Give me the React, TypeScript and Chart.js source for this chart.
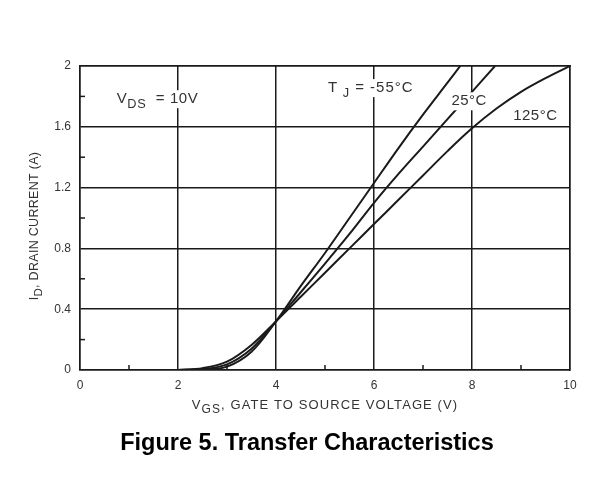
import React, { useEffect, useRef } from "react";
import { Chart, registerables } from "chart.js";

Chart.register(...registerables);

// V_GS (V) sample points and I_D (A), per junction temperature
const vgsMinus55 = [2.0, 2.5, 3.0, 3.5, 4.0, 4.5, 5.0, 5.5, 6.0, 6.5, 7.0, 7.5, 7.76];
const idMinus55 = [0, 0.002, 0.022, 0.12, 0.32, 0.55, 0.77, 1.0, 1.23, 1.46, 1.68, 1.89, 2.0];

const vgs25 = [2.0, 2.5, 3.0, 3.5, 4.0, 4.5, 5.0, 5.5, 6.0, 6.5, 7.0, 7.5, 8.0, 8.47];
const id25 = [0, 0.006, 0.037, 0.14, 0.32, 0.51, 0.7, 0.895, 1.1, 1.29, 1.47, 1.65, 1.83, 2.0];

const vgs125 = [2.0, 2.5, 3.0, 3.5, 4.0, 4.5, 5.0, 5.5, 6.0, 6.5, 7.0, 7.5, 8.0, 8.5, 9.0, 9.5, 10.0];
const id125 = [0, 0.012, 0.055, 0.165, 0.32, 0.48, 0.64, 0.8, 0.96, 1.12, 1.28, 1.44, 1.59, 1.72, 1.83, 1.92, 2.0];

const xTicks = [0, 2, 4, 6, 8, 10];
const yTicks = [0, 0.4, 0.8, 1.2, 1.6, 2];
const xMinorTicks = [1, 3, 5, 7, 9];
const yMinorTicks = [0.2, 0.6, 1.0, 1.4, 1.8];

const seriesLabels = ["-55°C", "25°C", "125°C"];

const FONT = "'Liberation Sans', Arial, Helvetica, sans-serif";
const INK = "#1a1a1a";
const TEXT = "#333";

function toPoints(xs: number[], ys: number[]) {
  return xs.map((x, i) => ({ x, y: ys[i] }));
}

function drawSubText(
  ctx: CanvasRenderingContext2D,
  parts: { t: string; sub?: boolean }[],
  x: number,
  y: number,
  size: number,
  subSize: number,
  subDrop: number,
  spacing = "0px"
) {
  let cx = x;
  for (const p of parts) {
    ctx.font = `${p.sub ? subSize : size}px ${FONT}`;
    (ctx as any).letterSpacing = spacing;
    ctx.fillText(p.t, cx, p.sub ? y + subDrop : y);
    cx += ctx.measureText(p.t).width;
  }
  (ctx as any).letterSpacing = "0px";
  return cx - x;
}

function measureSub(
  ctx: CanvasRenderingContext2D,
  parts: { t: string; sub?: boolean }[],
  size: number,
  subSize: number,
  spacing = "0px"
) {
  let w = 0;
  for (const p of parts) {
    ctx.font = `${p.sub ? subSize : size}px ${FONT}`;
    (ctx as any).letterSpacing = spacing;
    w += ctx.measureText(p.t).width;
  }
  (ctx as any).letterSpacing = "0px";
  return w;
}

const annotPlugin = {
  id: "annot",
  afterDatasetsDraw(chart: any) {
    const ctx: CanvasRenderingContext2D = chart.ctx;
    const xs = chart.scales.x;
    const ys = chart.scales.y;
    const area = chart.chartArea;
    ctx.save();

    // minor inward ticks
    ctx.strokeStyle = INK;
    ctx.lineWidth = 1.5;
    for (const v of xMinorTicks) {
      const px = xs.getPixelForValue(v);
      ctx.beginPath();
      ctx.moveTo(px, area.bottom);
      ctx.lineTo(px, area.bottom - 5);
      ctx.stroke();
    }
    for (const v of yMinorTicks) {
      const py = ys.getPixelForValue(v);
      ctx.beginPath();
      ctx.moveTo(area.left, py);
      ctx.lineTo(area.left + 5, py);
      ctx.stroke();
    }

    ctx.textBaseline = "alphabetic";
    ctx.textAlign = "left";

    const boxed = (
      parts: { t: string; sub?: boolean }[],
      vx: number,
      vy: number,
      size: number,
      spacing: string
    ) => {
      const x = xs.getPixelForValue(vx);
      const y = ys.getPixelForValue(vy);
      const w = measureSub(ctx, parts, size, size * 0.85, spacing);
      ctx.fillStyle = "#fff";
      ctx.fillRect(x - 4, y - size * 0.85, w + 6, size * 1.2);
      ctx.fillStyle = TEXT;
      drawSubText(ctx, parts, x, y, size, size * 0.85, 5, spacing);
    };

    boxed([{ t: "V" }, { t: "DS", sub: true }, { t: "  = 10V" }], 0.75, 1.757, 15, "0.6px");
    boxed([{ t: "T" }, { t: " J", sub: true }, { t: " = -55°C" }], 5.06, 1.83, 15, "1px");
    boxed([{ t: seriesLabels[1] }], 7.58, 1.743, 15, "0.5px");
    boxed([{ t: seriesLabels[2] }], 8.84, 1.645, 15, "0.5px");

    // x axis title
    const xParts = [{ t: "V" }, { t: "GS", sub: true }, { t: ", GATE TO SOURCE VOLTAGE (V)" }];
    const xw = measureSub(ctx, xParts, 13, 12, "1.1px");
    ctx.fillStyle = TEXT;
    drawSubText(ctx, xParts, 325 - xw / 2, 409, 13, 12, 4, "1.1px");

    // y axis title
    const yParts = [{ t: "I" }, { t: "D", sub: true }, { t: ", DRAIN CURRENT (A)" }];
    const yw = measureSub(ctx, yParts, 12.5, 11.5, "0.3px");
    ctx.translate(38, 226);
    ctx.rotate(-Math.PI / 2);
    drawSubText(ctx, yParts, -yw / 2, 0, 12.5, 11.5, 4, "0.3px");

    ctx.restore();
  },
};

export default function App() {
  const ref = useRef<HTMLCanvasElement | null>(null);

  useEffect(() => {
    if (!ref.current) return;
    const lineStyle = {
      showLine: true,
      borderColor: INK,
      backgroundColor: INK,
      borderWidth: 2,
      pointRadius: 0,
      pointHoverRadius: 0,
      tension: 0.35,
      fill: false,
    };
    const chart = new Chart(ref.current, {
      type: "scatter",
      data: {
        datasets: [
          { label: seriesLabels[0], data: toPoints(vgsMinus55, idMinus55), ...lineStyle },
          { label: seriesLabels[1], data: toPoints(vgs25, id25), ...lineStyle },
          { label: seriesLabels[2], data: toPoints(vgs125, id125), ...lineStyle },
        ],
      },
      options: {
        animation: false,
        responsive: false,
        devicePixelRatio: 1,
        layout: { padding: { top: 66, right: 32, left: 0, bottom: 0 } },
        plugins: {
          legend: { display: false },
          tooltip: { enabled: false },
          title: { display: false },
        },
        scales: {
          x: {
            type: "linear",
            min: 0,
            max: 10,
            afterBuildTicks: (s: any) => {
              s.ticks = xTicks.map((v) => ({ value: v }));
            },
            afterFit: (s: any) => {
              s.height = 113;
            },
            grid: { color: INK, lineWidth: 1.5, drawTicks: false },
            border: { color: INK, width: 1.5 },
            ticks: {
              color: TEXT,
              font: { family: FONT, size: 12 },
              padding: 8,
              maxRotation: 0,
              callback: (v: any) => String(v),
            },
          },
          y: {
            type: "linear",
            min: 0,
            max: 2,
            afterBuildTicks: (s: any) => {
              s.ticks = yTicks.map((v) => ({ value: v }));
            },
            afterFit: (s: any) => {
              s.width = 80;
            },
            grid: { color: INK, lineWidth: 1.5, drawTicks: false },
            border: { color: INK, width: 1.5 },
            ticks: {
              color: TEXT,
              font: { family: FONT, size: 12 },
              padding: 9,
              callback: (v: any) => (v === 0 || v === 2 ? String(v) : Number(v).toFixed(1)),
            },
          },
          x2: {
            type: "linear",
            position: "top",
            min: 0,
            max: 10,
            display: true,
            grid: { display: false, drawTicks: false },
            border: { color: INK, width: 1.5 },
            ticks: { display: false },
            afterFit: (s: any) => {
              s.height = 0;
            },
          },
          y2: {
            type: "linear",
            position: "right",
            min: 0,
            max: 2,
            display: true,
            grid: { display: false, drawTicks: false },
            border: { color: INK, width: 1.5 },
            ticks: { display: false },
            afterFit: (s: any) => {
              s.width = 0;
            },
          },
        },
      },
      plugins: [annotPlugin],
    });
    return () => chart.destroy();
  }, []);

  return (
    <div style={{ position: "fixed", left: 0, top: 0, width: 602, height: 483, background: "#fff" }}>
      <canvas ref={ref} width={602} height={483} style={{ position: "absolute", left: 0, top: 0 }} />
      <div
        style={{
          position: "absolute",
          left: 12,
          top: 427,
          width: 590,
          textAlign: "center",
          fontFamily: FONT,
          fontWeight: "bold",
          fontSize: 23.5,
          color: "#000",
          lineHeight: "30px",
        }}
      >
        Figure 5. Transfer Characteristics
      </div>
    </div>
  );
}
